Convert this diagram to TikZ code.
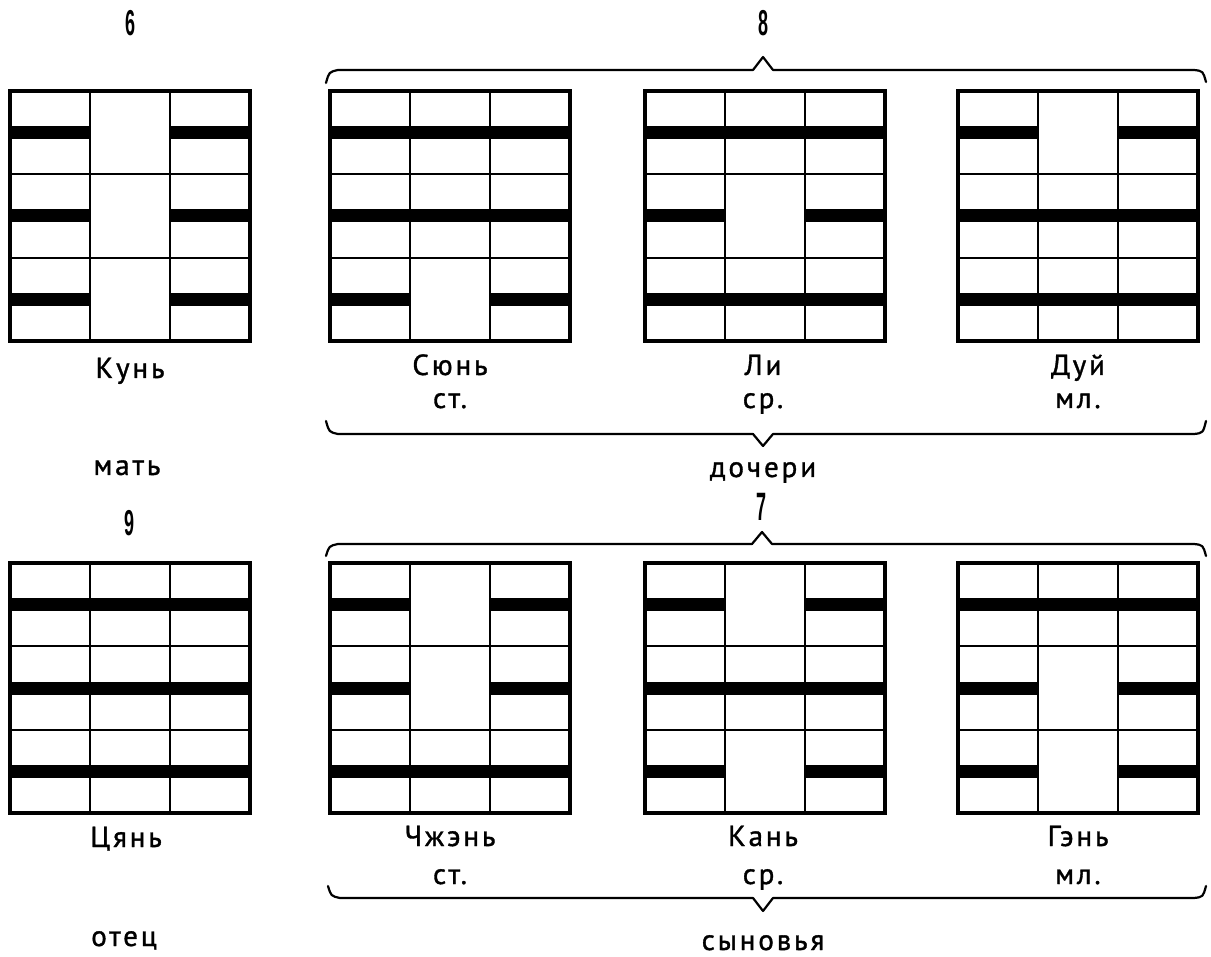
\documentclass[tikz,border=0pt]{standalone}
\usepackage{fontspec}
\setmainfont{PT Sans}
\newfontfamily\labfont[LetterSpace=10,FakeBold=1.2]{PT Sans}
\newfontfamily\numfont{Liberation Sans}
\def\gw{240}
\def\gh{250}
\tikzset{
  thinln/.style={line width=2pt},
  outerln/.style={line width=3.2pt},
  bracestyle/.style={line width=2.2pt, line join=round, line cap=round},
  lab/.style={font=\labfont\fontsize{29}{31}\selectfont, inner sep=0pt, anchor=base},
  num/.style={font=\numfont\bfseries\fontsize{36}{36}\selectfont, inner sep=0pt, anchor=base}
}
\newcommand\guadraw[5]{%
  \begin{scope}[shift={(#1,#2)}]
    \foreach \t [count=\i from 0] in {#3,#4,#5}{
      \pgfmathsetmacro\ym{(\i+0.5)*\gh/3}
      \ifnum\t=1
        \fill (0,\ym-6.5) rectangle (\gw,\ym+6.5);
      \else
        \fill (0,\ym-6.5) rectangle (\gw/3,\ym+6.5);
        \fill (2*\gw/3,\ym-6.5) rectangle (\gw,\ym+6.5);
      \fi
    }
    \draw[thinln] (0,\gh/3) -- (\gw,\gh/3) (0,2*\gh/3) -- (\gw,2*\gh/3)
      (\gw/3,0) -- (\gw/3,\gh) (2*\gw/3,0) -- (2*\gw/3,\gh);
    \draw[outerln] (0,0) rectangle (\gw,\gh);
  \end{scope}}
\begin{document}
\begin{tikzpicture}[x=1pt,y=-1pt]
\useasboundingbox[fill=white] (0,0) rectangle (1211,957);
% top row: Kun, Xun, Li, Dui
\guadraw{10}{91}{0}{0}{0}
\guadraw{330}{91}{1}{1}{0}
\guadraw{645}{91}{1}{0}{1}
\guadraw{958}{91}{0}{1}{1}
% bottom row: Qian, Zhen, Kan, Gen
\guadraw{10}{563}{1}{1}{1}
\guadraw{330}{563}{0}{0}{1}
\guadraw{645}{563}{0}{1}{0}
\guadraw{958}{563}{1}{0}{0}
% numbers
\node[num] (n6) at (131,36) {\scalebox{0.5}[1]{6}};
\node[num] (n8) at (763,36) {\scalebox{0.5}[1]{8}};
\node[num] (n9) at (130,536) {\scalebox{0.5}[1]{9}};
\node[num] (n7) at (761,521) {\scalebox{0.5}[1.1]{7}};
% braces
\draw[bracestyle] (326,83) .. controls (329,72) .. (338,70) -- (753,70) -- (763,57) -- (773,70) -- (1194,70) .. controls (1203,71) .. (1206,82);
\draw[bracestyle] (326,421) .. controls (329,432) .. (338,434) -- (753,434) -- (763,446) -- (773,434) -- (1194,434) .. controls (1203,433) .. (1206,421);
\draw[bracestyle] (326,556) .. controls (329,546) .. (338,544) -- (752,544) -- (762,532) -- (772,544) -- (1194,544) .. controls (1203,545) .. (1206,556);
\draw[bracestyle] (328,886) .. controls (331,896) .. (340,898) -- (753,898) -- (763,911) -- (773,898) -- (1194,898) .. controls (1203,897) .. (1206,886);
% labels top
\node[lab] (kun) at (130,378) {Кунь};
\node[lab] (mat) at (127,475) {мать};
\node[lab] (xun) at (450,375) {Сюнь};
\node[lab] (xuns) at (450,408) {ст.};
\node[lab] (li) at (763,375) {Ли};
\node[lab] (lis) at (763,408) {ср.};
\node[lab] (dui) at (1078,375) {Дуй};
\node[lab] (duis) at (1078,408) {мл.};
\node[lab] (doch) at (763,477) {дочери};
% labels bottom
\node[lab] (qian) at (126,847) {Цянь};
\node[lab] (otec) at (124,946) {отец};
\node[lab] (zhen) at (450,846) {Чжэнь};
\node[lab] (zhens) at (450,884) {ст.};
\node[lab] (kan) at (763,846) {Кань};
\node[lab] (kans) at (763,884) {ср.};
\node[lab] (gen) at (1078,846) {Гэнь};
\node[lab] (gens) at (1078,884) {мл.};
\node[lab] (syn) at (763,950) {сыновья};
\end{tikzpicture}
\end{document}
